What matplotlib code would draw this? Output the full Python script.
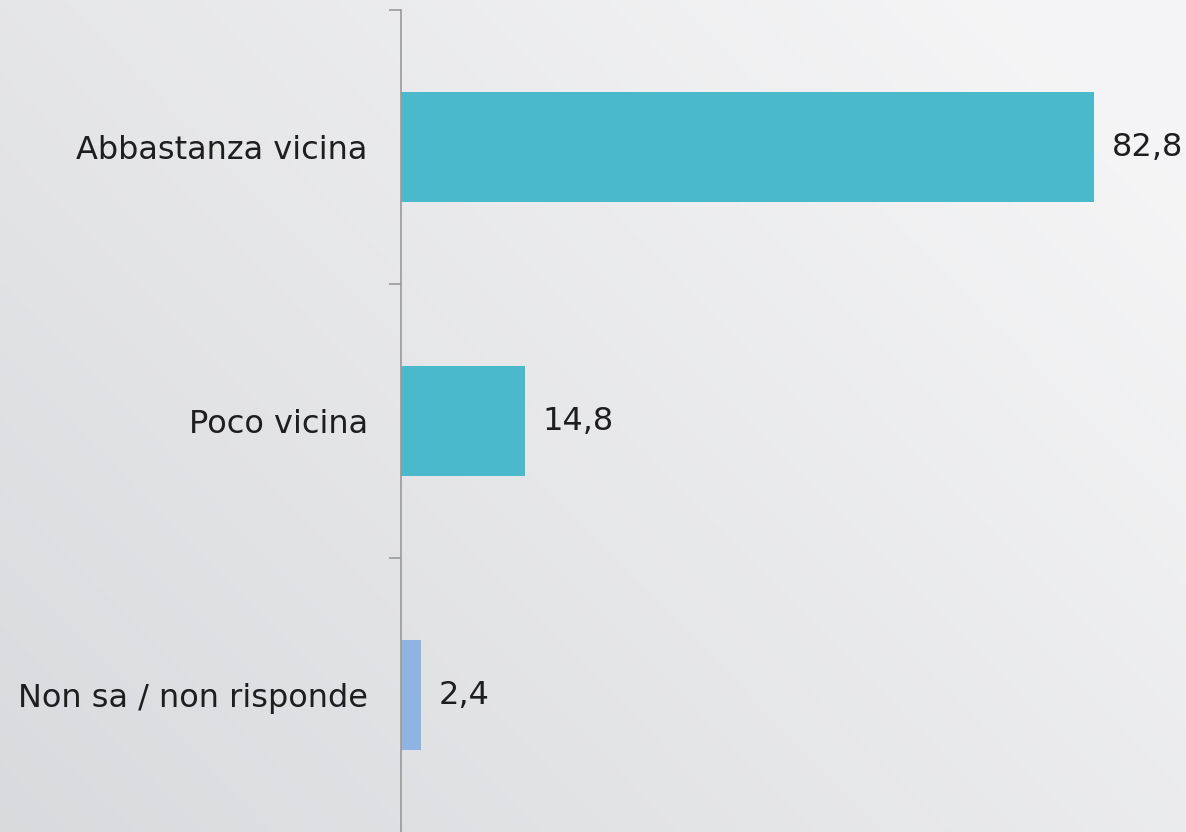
import numpy as np
import matplotlib.pyplot as plt

categorie = ["Abbastanza vicina", "Poco vicina", "Non sa / non risponde"]
valori = [82.8, 14.8, 2.4]
etichette = ["82,8", "14,8", "2,4"]
colori = ["#4ab9cc", "#4ab9cc", "#8fb4e3"]

fig = plt.figure(figsize=(11.86, 8.32), dpi=100)

# sfondo sfumato in diagonale
bg = fig.add_axes([0, 0, 1, 1], zorder=-1)
xx, yy = np.meshgrid(np.linspace(0, 1, 300), np.linspace(0, 1, 300))
t = np.clip(0.65 * xx + 0.45 * yy, 0, 1)
c0 = np.array([0.85, 0.855, 0.865])
c1 = np.array([0.96, 0.96, 0.965])
img = c0 + (c1 - c0) * t[..., None]
bg.imshow(img, origin="lower", extent=[0, 1, 0, 1], aspect="auto")
bg.axis("off")

ax = fig.add_axes([401 / 1186, 0, 1 - 401 / 1186, 1 - 10 / 832])
ax.patch.set_alpha(0)
pos = np.arange(len(categorie))
ax.barh(pos, valori, height=0.4, color=colori)
for p, v, e in zip(pos, valori, etichette):
    ax.text(v + 2.1, p, e, va="center", ha="left", fontsize=23, color="#1e1e1e")

ax.set_xlim(0, 785 / 8.37)
ax.set_ylim(len(categorie) - 0.5, -0.5)

for s in ["top", "right", "bottom"]:
    ax.spines[s].set_visible(False)
ax.spines["left"].set_color("#999999")
ax.spines["left"].set_linewidth(1.2)

ax.set_xticks([])
ax.set_yticks(np.arange(len(categorie)) - 0.5)
ax.set_yticklabels([])
ax.tick_params(axis="y", which="major", length=8.5, width=1.2, color="#999999")
ax.set_yticks(pos, minor=True)
ax.set_yticklabels(categorie, minor=True, fontsize=23, color="#1e1e1e")
ax.tick_params(axis="y", which="minor", length=0, pad=24)

fig.savefig("out.png", dpi=100)
